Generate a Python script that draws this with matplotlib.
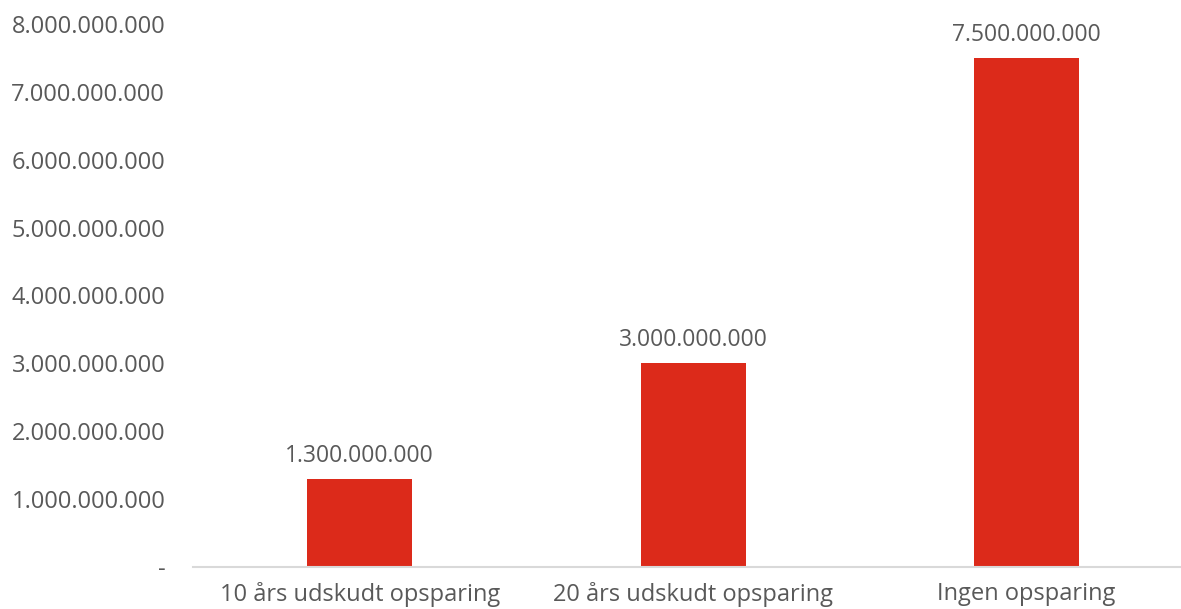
import matplotlib.pyplot as plt
from matplotlib.ticker import FuncFormatter

categories = ['10 års udskudt opsparing', '20 års udskudt opsparing', 'Ingen opsparing']
values = [1300000000, 3000000000, 7500000000]
yticks = [0, 1e9, 2e9, 3e9, 4e9, 5e9, 6e9, 7e9, 8e9]

plt.rcParams['font.family'] = ['Open Sans', 'DejaVu Sans']
grey = '#595959'


def dk(v):
    if v == 0:
        return '-'
    return f'{int(v):,}'.replace(',', '.')


fig = plt.figure(figsize=(11.81, 6.09), dpi=100)
ax = fig.add_axes([193 / 1181, 42 / 609, 1000 / 1181, 543 / 609])

x = range(len(categories))
bars = ax.bar(x, values, width=0.315, color='#DC2A1A')
for b, v in zip(bars, values):
    ax.annotate(dk(v), (b.get_x() + b.get_width() / 2, v), xytext=(0, 8),
                textcoords='offset points', ha='center', va='bottom',
                fontsize=16.5, color=grey)

ax.set_xlim(-0.5, 2.5)
ax.set_ylim(0, 8e9)
ax.set_yticks(yticks)
ax.yaxis.set_major_formatter(FuncFormatter(lambda v, p: dk(v)))
ax.set_xticks(list(x), labels=categories)
ax.tick_params(axis='both', length=0, labelcolor=grey)
ax.tick_params(axis='y', pad=20, labelsize=17)
ax.tick_params(axis='x', pad=11, labelsize=17)

for s in ['top', 'right', 'left']:
    ax.spines[s].set_visible(False)
ax.spines['bottom'].set_color('#D9D9D9')
ax.spines['bottom'].set_linewidth(1.5)

fig.savefig('out.png', dpi=100)
